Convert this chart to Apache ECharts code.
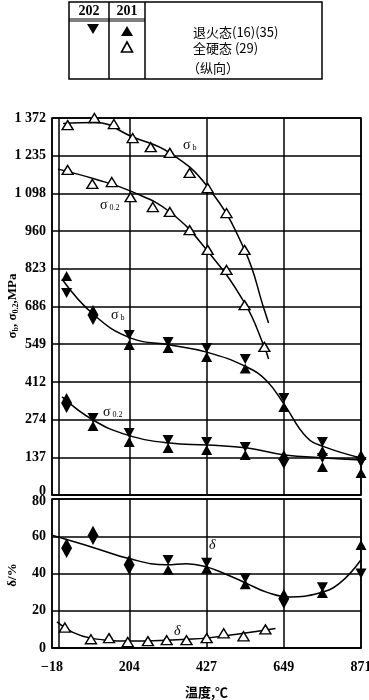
<!DOCTYPE html>
<html><head><meta charset="utf-8">
<script src="https://cdn.jsdelivr.net/npm/echarts@6/dist/echarts.min.js"></script>
<style>html,body{margin:0;padding:0;background:#fff}#c{width:369px;height:700px}</style>
</head><body><div id="c"></div>
<script>
// ---- data ----
const xTicks = [-18, 204, 427, 649, 871];
const yTicksUpper = ['0', '137', '274', '412', '549', '686', '823', '960', '1 098', '1 235', '1 372'];
const yTicksLower = [0, 20, 40, 60, 80];

// annealed (退火态) test temperatures
const tempAnneal = [24, 100, 204, 316, 427, 538, 649, 760, 871];
const sbAn201 = [797, 673, 546, 535, 502, 460, 320, 160, 146];
const sbAn202 = [735, 637, 582, 557, 535, 495, 353, 193, 120];
const s02An201 = [353, 251, 193, 171, 164, 146, 146, 102, 80];
const s02An202 = [317, 280, 226, 200, 193, 175, 113, 135, 120];
const dAn201 = [56.3, 63, 47.3, 42, 42.6, 34.2, 29, 29.5, 55.3];
const dAn202 = [51, 58, 42, 47.3, 45.8, 37.4, 23.7, 32.6, 40];

// full hard (全硬态) 201
const tempFhSb = [27, 104, 160, 214, 266, 321, 378, 430, 484, 536];
const sbFh = [1346, 1372, 1350, 1299, 1266, 1245, 1172, 1117, 1026, 892];
const tempFhS02 = [27, 98, 154, 208, 272, 321, 378, 430, 484, 536, 593];
const s02Fh = [1183, 1132, 1139, 1084, 1048, 1030, 964, 892, 819, 691, 539];
const tempFhD = [19, 94, 146, 200, 258, 312, 369, 427, 476, 533, 596];
const dFh = [11, 4.7, 5.3, 3.2, 3.7, 4.2, 4.2, 5.3, 7.9, 6.3, 10];

// fitted curves
const curveSbAnT = [11, 103, 209, 321, 427, 542, 600, 651, 714, 766, 871];
const curveSbAnV = [785, 655, 571, 546, 520, 466, 415, 328, 211, 175, 135];
const curveS02AnT = [11, 100, 200, 321, 430, 545, 651, 766, 871];
const curveS02AnV = [357, 273, 218, 189, 182, 171, 146, 135, 127];
const curveSbFhT = [14, 105, 214, 321, 430, 536, 593, 605];
const curveSbFhV = [1352, 1356, 1303, 1245, 1121, 892, 673, 626];
const curveS02FhT = [-1, 105, 214, 321, 427, 536, 593, 605];
const curveS02FhV = [1186, 1150, 1103, 1030, 892, 699, 539, 495];
const curveDAnT = [-18, 100, 203, 312, 369, 424, 484, 542, 599, 665, 751, 809, 871];
const curveDAnV = [60.5, 54, 48, 44.7, 45.3, 43.7, 39.5, 34.7, 30, 27.4, 29.5, 34.7, 47.4];
const curveDFhT = [-4, 42, 94, 200, 369, 427, 533, 625];
const curveDFhV = [14, 8.4, 5.3, 3.7, 4.7, 5.3, 7.9, 10.5];

// ---- chart ----
const zip = (a, b) => a.map((v, i) => [v, b[i]]);
const serif = 'Liberation Serif';
const cjk = 'Noto Sans CJK SC';
const xStep = (xTicks[xTicks.length - 1] - xTicks[0]) / (xTicks.length - 1);
const lineS = (name, t, v, xi) => ({
  name, type: 'line', xAxisIndex: xi, yAxisIndex: xi, data: zip(t, v),
  smooth: 0.45, showSymbol: false, symbol: 'none',
  lineStyle: { color: '#000', width: 1.5 }, silent: true, z: 3
});
const filled = (name, t, v, xi, down) => ({
  name, type: 'scatter', xAxisIndex: xi, yAxisIndex: xi, data: zip(t, v),
  symbol: 'triangle', symbolSize: [11, 10], symbolRotate: down ? 180 : 0,
  itemStyle: { color: '#000', opacity: 1 }, z: 5
});
const open = (name, t, v, xi) => ({
  name, type: 'scatter', xAxisIndex: xi, yAxisIndex: xi, data: zip(t, v),
  symbol: 'triangle', symbolSize: [11, 9],
  itemStyle: { color: '#fff', borderColor: '#000', borderWidth: 1.4, opacity: 1 }, z: 6
});
const tickFont = { color: '#000', fontFamily: serif, fontWeight: 'bold', fontSize: 14 };

const xAxisBase = (gi, showLabel) => ({
  type: 'value', gridIndex: gi, min: xTicks[0], max: xTicks[xTicks.length - 1], interval: xStep,
  axisLine: { show: true, lineStyle: { color: '#000', width: 1.5 } },
  axisTick: { show: false },
  splitLine: { show: true, lineStyle: { color: '#000', width: 1.5 } },
  axisLabel: Object.assign({
    show: showLabel, margin: 12, showMinLabel: true, showMaxLabel: true, hideOverlap: false,
    formatter: v => { const t = xTicks[Math.round((v - xTicks[0]) / xStep)]; return t < 0 ? '\u2212' + (-t) : String(t); }
  }, tickFont)
});

const option = {
  animation: false,
  backgroundColor: '#fff',
  grid: [
    { left: 52, right: 8, top: 118, height: 377, show: true, borderColor: '#000', borderWidth: 1.5, containLabel: false, outerBoundsMode: 'none' },
    { left: 52, right: 8, top: 499, height: 149, show: true, borderColor: '#000', borderWidth: 1.5, containLabel: false, outerBoundsMode: 'none' }
  ],
  xAxis: [
    xAxisBase(0, false),
    Object.assign(xAxisBase(1, true), {
      name: '温度,℃', nameLocation: 'middle', nameGap: 38,
      nameTextStyle: { color: '#000', fontFamily: cjk, fontWeight: 'bold', fontSize: 13 }
    })
  ],
  yAxis: [
    {
      type: 'value', gridIndex: 0, min: 0, max: 1372, interval: 137.2,
      axisLine: { show: true, lineStyle: { color: '#000', width: 1.5 } },
      axisTick: { show: false },
      splitLine: { show: true, lineStyle: { color: '#000', width: 1.5 } },
      axisLabel: Object.assign({
        formatter: v => { const i = Math.round(v / 137.2); return i === 0 ? '{lo|0}' : yTicksUpper[i]; },
        margin: 6,
        rich: { lo: Object.assign({ padding: [0, 0, 7, 0] }, tickFont) }
      }, tickFont)
    },
    {
      type: 'value', gridIndex: 1, min: 0, max: 80, interval: 20,
      axisLine: { show: true, lineStyle: { color: '#000', width: 1.5 } },
      axisTick: { show: false },
      splitLine: { show: true, lineStyle: { color: '#000', width: 1.5 } },
      axisLabel: Object.assign({
        formatter: v => { const i = Math.round(v / 20); return i === 4 ? '{hi|80}' : String(yTicksLower[i]); },
        margin: 6,
        rich: { hi: Object.assign({ padding: [5, 0, 0, 0] }, tickFont) }
      }, tickFont)
    }
  ],
  series: [
    lineS('c1', curveSbFhT, curveSbFhV, 0),
    lineS('c2', curveS02FhT, curveS02FhV, 0),
    lineS('c3', curveSbAnT, curveSbAnV, 0),
    lineS('c4', curveS02AnT, curveS02AnV, 0),
    open('σb 全硬态', tempFhSb, sbFh, 0),
    open('σ0.2 全硬态', tempFhS02, s02Fh, 0),
    filled('σb 201', tempAnneal, sbAn201, 0, false),
    filled('σb 202', tempAnneal, sbAn202, 0, true),
    filled('σ0.2 201', tempAnneal, s02An201, 0, false),
    filled('σ0.2 202', tempAnneal, s02An202, 0, true),
    lineS('c5', curveDAnT, curveDAnV, 1),
    lineS('c6', curveDFhT, curveDFhV, 1),
    open('δ 全硬态', tempFhD, dFh, 1),
    filled('δ 201', tempAnneal, dAn201, 1, false),
    filled('δ 202', tempAnneal, dAn202, 1, true)
  ],
  graphic: [
    // legend table
    { type: 'rect', shape: { x: 69, y: 2, width: 253, height: 77 }, style: { fill: 'none', stroke: '#000', lineWidth: 1.5 } },
    { type: 'line', shape: { x1: 109, y1: 2, x2: 109, y2: 79 }, style: { stroke: '#000', lineWidth: 1.5 } },
    { type: 'line', shape: { x1: 145, y1: 2, x2: 145, y2: 79 }, style: { stroke: '#000', lineWidth: 1.5 } },
    { type: 'line', shape: { x1: 69, y1: 19, x2: 145, y2: 19 }, style: { stroke: '#000', lineWidth: 1.2 } },
    { type: 'line', shape: { x1: 69, y1: 21, x2: 145, y2: 21 }, style: { stroke: '#000', lineWidth: 1.2 } },
    { type: 'text', style: { text: '202', x: 89, y: 11, align: 'center', verticalAlign: 'middle', font: 'bold 14px "Liberation Serif"', fill: '#000' } },
    { type: 'text', style: { text: '201', x: 127, y: 11, align: 'center', verticalAlign: 'middle', font: 'bold 14px "Liberation Serif"', fill: '#000' } },
    { type: 'polygon', shape: { points: [[87, 24], [99, 24], [93, 34]] }, style: { fill: '#000' } },
    { type: 'polygon', shape: { points: [[127, 26], [121, 36], [133, 36]] }, style: { fill: '#000' } },
    { type: 'polygon', shape: { points: [[127, 42], [121.5, 52], [132.5, 52]] }, style: { fill: '#fff', stroke: '#000', lineWidth: 1.6 } },
    { type: 'text', style: { text: '退火态(16)(35)', x: 193, y: 32, verticalAlign: 'middle', font: '13px "Noto Sans CJK SC"', fill: '#000' } },
    { type: 'text', style: { text: '全硬态 (29)', x: 193, y: 48, verticalAlign: 'middle', font: '13px "Noto Sans CJK SC"', fill: '#000' } },
    { type: 'text', style: { text: '（纵向）', x: 187, y: 68, verticalAlign: 'middle', font: '13px "Noto Sans CJK SC"', fill: '#000' } },
    // axis names
    { type: 'text', x: 13, y: 306, rotation: Math.PI / 2, style: {
      text: '{s|σ}{sub|b}{s|, σ}{sub|0.2}{s|,MPa}', align: 'center', verticalAlign: 'middle',
      rich: {
        s: { font: 'bold 13px "Liberation Serif"', fill: '#000' },
        sub: { font: 'bold 8px "Liberation Serif"', fill: '#000', padding: [6, 0, 0, 0] }
      } } },
    { type: 'text', x: 13, y: 575, rotation: Math.PI / 2, style: {
      text: 'δ/%', align: 'center', verticalAlign: 'middle', font: 'bold 13px "Liberation Serif"', fill: '#000' } },
    // curve annotations
    { type: 'text', z: 10, style: { text: '{s|σ}{b| b}', x: 183, y: 145, verticalAlign: 'middle',
      rich: { s: { font: '14px "Liberation Serif"', fill: '#000' }, b: { font: '8px "Liberation Serif"', fill: '#000', padding: [6, 0, 0, 0] } } } },
    { type: 'text', z: 10, style: { text: '{s|σ}{b| 0.2}', x: 100, y: 205, verticalAlign: 'middle',
      rich: { s: { font: '14px "Liberation Serif"', fill: '#000' }, b: { font: '8px "Liberation Serif"', fill: '#000', padding: [6, 0, 0, 0] } } } },
    { type: 'text', z: 10, style: { text: '{s|σ}{b| b}', x: 111, y: 315, verticalAlign: 'middle',
      rich: { s: { font: '14px "Liberation Serif"', fill: '#000' }, b: { font: '8px "Liberation Serif"', fill: '#000', padding: [6, 0, 0, 0] } } } },
    { type: 'text', z: 10, style: { text: '{s|σ}{b| 0.2}', x: 103, y: 412, verticalAlign: 'middle',
      rich: { s: { font: '14px "Liberation Serif"', fill: '#000' }, b: { font: '8px "Liberation Serif"', fill: '#000', padding: [6, 0, 0, 0] } } } },
    { type: 'text', z: 10, style: { text: 'δ', x: 209, y: 545, verticalAlign: 'middle', font: 'italic 14px "Liberation Serif"', fill: '#000' } },
    { type: 'text', z: 10, style: { text: 'δ', x: 174, y: 631, verticalAlign: 'middle', font: 'italic 14px "Liberation Serif"', fill: '#000' } }
  ]
};
const chart = echarts.init(document.getElementById('c'), null, { renderer: 'canvas' });
chart.setOption(option);
</script>
</body></html>
